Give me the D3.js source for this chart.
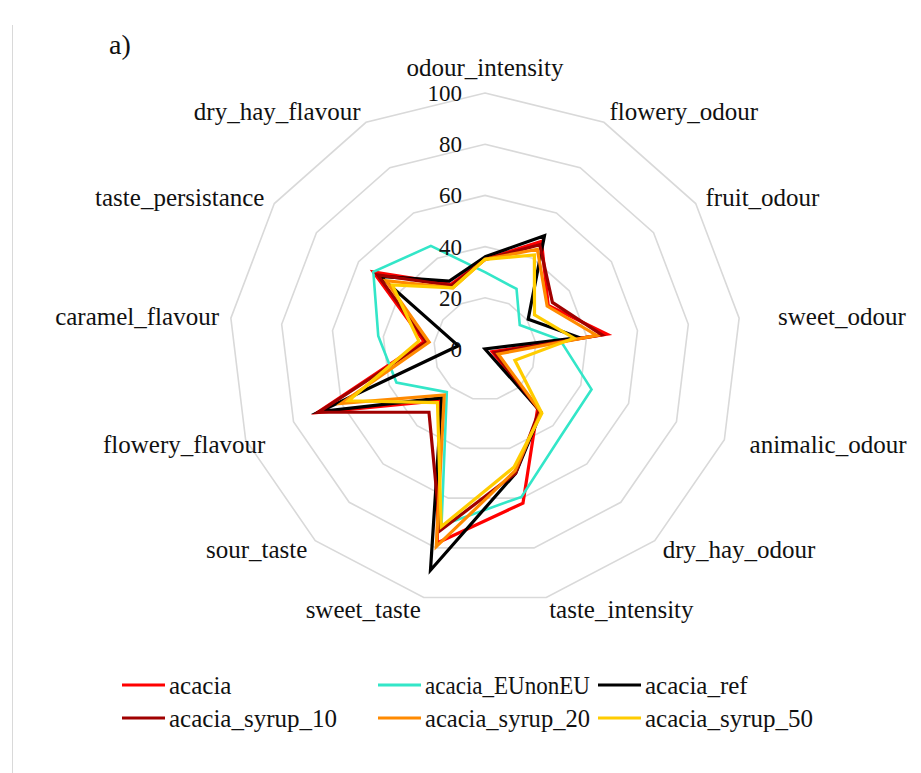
<!DOCTYPE html>
<html>
<head>
<meta charset="utf-8">
<script src="https://cdn.jsdelivr.net/npm/d3@7"></script>
<style>
  html, body { margin: 0; padding: 0; background: #fff; }
  svg { display: block; }
  text { font-family: "Liberation Serif", "Times New Roman", serif; fill: #111; }
</style>
</head>
<body>
<svg id="chart" width="921" height="773"></svg>
<script>
// Sensory attributes (clockwise from the top)
const attributes = [
  "odour_intensity", "flowery_odour", "fruit_odour", "sweet_odour",
  "animalic_odour", "dry_hay_odour", "taste_intensity", "sweet_taste",
  "sour_taste", "flowery_flavour", "caramel_flavour", "taste_persistance",
  "dry_hay_flavour"
];

const radialTicks = [0, 20, 40, 60, 80, 100];

// Panel scores per sample, same order as attributes
const acacia          = [35, 47.5, 30, 48, 3, 31, 62, 78, 27, 70, 24, 53, 28.5];
const acacia_EUnonEU  = [30, 26.5, 16.5, 29.5, 44.5, 45, 59.5, 71, 22.5, 37, 42, 53, 45.5];
const acacia_ref      = [36, 50, 20.5, 37, 0, 33, 50, 89, 25.5, 69, 10.5, 50, 30];
const acacia_syrup_10 = [35, 46, 32, 46, 4, 32, 50, 73, 33, 69.5, 23, 51, 28];
const acacia_syrup_20 = [35, 44, 29.5, 44, 5.5, 33, 49, 79.5, 24, 60, 22, 47, 27];
const acacia_syrup_50 = [35, 41.5, 23.5, 35, 12.5, 33.5, 47.5, 71.5, 28, 57, 26, 44, 27];

const seriesNames  = ["acacia", "acacia_EUnonEU", "acacia_ref", "acacia_syrup_10", "acacia_syrup_20", "acacia_syrup_50"];
const seriesValues = [acacia, acacia_EUnonEU, acacia_ref, acacia_syrup_10, acacia_syrup_20, acacia_syrup_50];
const seriesColors = ["#ff0000", "#33e6c8", "#000000", "#a00000", "#ff8a00", "#ffcc00"];

const series = seriesNames.map((name, k) => ({ name, values: seriesValues[k], color: seriesColors[k] }));

const svg = d3.select("#chart");
const cx = 485, cy = 349;
const n = attributes.length;
const step = 2 * Math.PI / n;

const r = d3.scaleLinear().domain([0, 100]).range([0, 256]);

const g = svg.append("g").attr("transform", `translate(${cx},${cy})`);

// Chart-area edge on the left
svg.append("line")
  .attr("x1", 12.5).attr("x2", 12.5).attr("y1", 25).attr("y2", 773)
  .attr("stroke", "#d9d9d9").attr("stroke-width", 1);

// Panel tag
svg.append("text")
  .attr("x", 109).attr("y", 54)
  .attr("font-size", 28)
  .text("a)");

// Polygonal grid rings
const ring = d3.lineRadial()
  .angle((d, i) => i * step)
  .radius(d => r(d))
  .curve(d3.curveLinearClosed);

g.selectAll("path.ring")
  .data(radialTicks.filter(t => t > 0))
  .join("path")
  .attr("class", "ring")
  .attr("d", t => ring(attributes.map(() => t)))
  .attr("fill", "none")
  .attr("stroke", "#d9d9d9")
  .attr("stroke-width", 1.6);

// Series polygons
const seriesLine = d3.lineRadial()
  .angle((d, i) => i * step)
  .radius(d => r(d))
  .curve(d3.curveLinearClosed);

g.selectAll("path.series")
  .data(series)
  .join("path")
  .attr("class", "series")
  .attr("d", s => seriesLine(s.values))
  .attr("fill", "none")
  .attr("stroke", s => s.color)
  .attr("stroke-width", s => s.name === "acacia_EUnonEU" ? 2.6 : 3.2)
  .attr("stroke-linejoin", "miter")
  .attr("stroke-miterlimit", 10);

// Value labels along the vertical axis
g.selectAll("text.tick")
  .data(radialTicks)
  .join("text")
  .attr("class", "tick")
  .attr("x", -23)
  .attr("y", t => -r(t))
  .attr("dy", "0.35em")
  .attr("text-anchor", "end")
  .attr("font-size", 23)
  .text(t => t);

// Attribute labels around the outside
const labelR = 268;
const nudge = i => (i === 3 ? 27 : i === 4 ? 14 : i === 9 ? 31 : 0);
g.selectAll("text.attr")
  .data(attributes)
  .join("text")
  .attr("class", "attr")
  .attr("font-size", 25)
  .each(function (name, i) {
    const a = i * step;
    const s = Math.sin(a), c = Math.cos(a);
    let x = labelR * s, y = -labelR * c;
    let anchor = "middle";
    if (i === 0) { y -= 14; }
    else { anchor = s > 0 ? "start" : "end"; x += nudge(i); }
    d3.select(this)
      .attr("x", x).attr("y", y).attr("dy", "0.35em")
      .attr("text-anchor", anchor)
      .text(name);
  });

// Legend: two rows of three
const legendCols = [122, 378, 598];
const legendRows = [685, 718];
const leg = svg.append("g");
series.forEach((s, k) => {
  const col = k % 3;
  const x = legendCols[col], y = legendRows[Math.floor(k / 3)];
  leg.append("line")
    .attr("x1", x).attr("x2", x + 43).attr("y1", y).attr("y2", y)
    .attr("stroke", s.color).attr("stroke-width", 3.2);
  const t = leg.append("text")
    .attr("x", x + 47).attr("y", y).attr("dy", "0.35em")
    .attr("font-size", 25)
    .text(s.name);
  // keep an entry from running into the next column's key
  if (col < 2) {
    const room = legendCols[col + 1] - (x + 47) - 8;
    if (t.node().getComputedTextLength() > room) {
      t.attr("textLength", room).attr("lengthAdjust", "spacingAndGlyphs");
    }
  }
});
</script>
</body>
</html>
